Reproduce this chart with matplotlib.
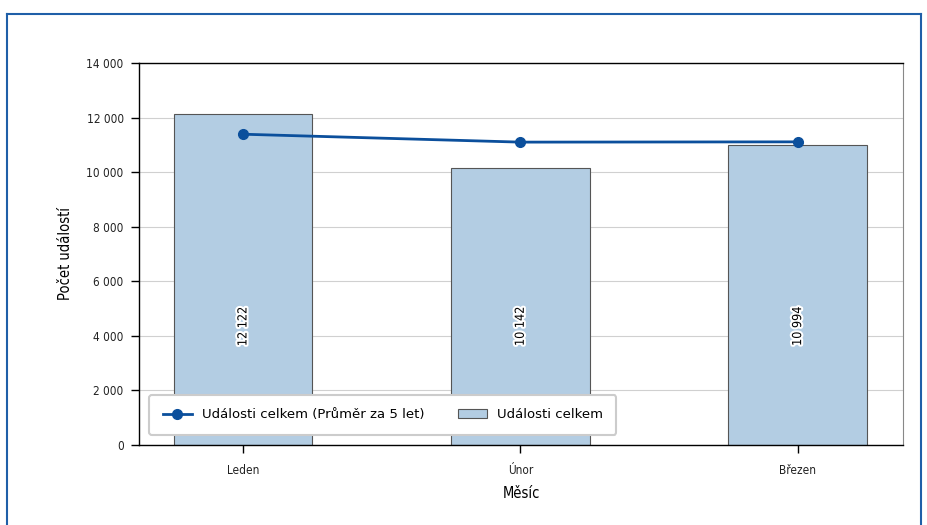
import matplotlib
matplotlib.use("Agg")
import matplotlib.pyplot as plt
import matplotlib.patheffects as pe
from matplotlib.lines import Line2D
from matplotlib.ticker import FuncFormatter

# ---------------------------------------------------------
# Data
# ---------------------------------------------------------
months = ["Leden", "Únor", "Březen"]
events_total = [12122, 10142, 10994]
events_avg5 = [11390, 11100, 11110]
label_y = 4350

narrow = "DejaVu Sans"
bar_color = "#b3cde3"
line_color = "#0b4f9c"

fig = plt.figure(figsize=(9.28, 5.25), dpi=100)
ax = fig.add_axes([139 / 928, 1 - 445 / 525, (903 - 139) / 928, (445 - 63) / 525])

x = list(range(len(months)))
ax.bar(x, events_total, width=0.5, color=bar_color, edgecolor="#555555",
       linewidth=0.8, label="Události celkem", zorder=2)
ax.plot(x, events_avg5, color=line_color, linewidth=2, marker="o", markersize=7,
        label="Události celkem (Průměr za 5 let)", zorder=3)

for xi, v in zip(x, events_total):
    txt = f"{v:,}".replace(",", " ")
    ax.text(xi, label_y, txt, rotation=90, ha="center", va="center",
            fontsize=9, family=narrow, stretch="condensed", color="black", zorder=4,
            path_effects=[pe.withStroke(linewidth=3, foreground="white")])

ax.set_xlim(-0.375, 2.38)
ax.set_ylim(0, 14000)
ax.set_yticks(range(0, 14001, 2000))
ax.yaxis.set_major_formatter(FuncFormatter(lambda v, p: f"{int(v):,}".replace(",", " ")))
ax.set_xticks(x)
ax.set_xticklabels(months)
for lab in ax.get_xticklabels() + ax.get_yticklabels():
    lab.set_family(narrow)
    lab.set_stretch("condensed")
    lab.set_fontsize(8.5)
    lab.set_color("#222222")
ax.tick_params(axis="both", length=6, width=1, direction="out", pad=5)
ax.tick_params(axis="x", pad=8)

ax.grid(axis="y", color="#d0d0d0", linewidth=0.8, zorder=0)
ax.set_axisbelow(True)
for s in ["left", "bottom", "top"]:
    ax.spines[s].set_color("black")
    ax.spines[s].set_linewidth(1)
ax.spines["right"].set_color("#888888")

ax.set_xlabel("Měsíc", family=narrow, stretch="condensed", fontsize=10.5, labelpad=6)
ax.set_ylabel("Počet událostí", family=narrow, stretch="condensed", fontsize=10.5, labelpad=10)

handles = [
    Line2D([0], [0], color=line_color, linewidth=2, marker="o", markersize=7),
    plt.Rectangle((0, 0), 1, 1, facecolor=bar_color, edgecolor="#555555", linewidth=0.8),
]
leg = ax.legend(handles, ["Události celkem (Průměr za 5 let)", "Události celkem"],
                loc="lower left", bbox_to_anchor=(0.005, 0.01), ncol=2,
                fontsize=9.5, frameon=True, fancybox=True, framealpha=1,
                edgecolor="#cccccc", handlelength=2.2, columnspacing=2.5,
                borderpad=1.0)
leg.get_frame().set_linewidth(1.5)
leg.set_zorder(5)

# outer blue frame
blue = "#1f5fa8"
fl, fr, ft = 7 / 928, 921 / 928, 1 - 14 / 525
fig.add_artist(Line2D([fl, fl], [-0.02, ft], color=blue, linewidth=1.5))
fig.add_artist(Line2D([fl, fr], [ft, ft], color=blue, linewidth=1.5))
fig.add_artist(Line2D([fr, fr], [ft, -0.02], color=blue, linewidth=1.5))

plt.savefig("out.png", dpi=100)
